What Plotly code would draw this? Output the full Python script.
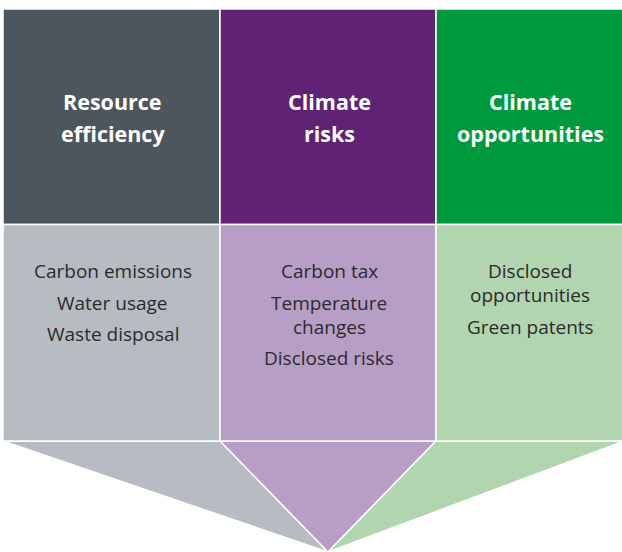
import plotly.graph_objects as go

# ---- data ----
categories = [["Resource", "efficiency"], ["Climate", "risks"], ["Climate", "opportunities"]]
items = [
    [["Carbon emissions"], ["Water usage"], ["Waste disposal"]],
    [["Carbon tax"], ["Temperature", "changes"], ["Disclosed risks"]],
    [["Disclosed", "opportunities"], ["Green patents"]],
]
top_colors = ["#4e565d", "#5f2275", "#009a3e"]
mid_colors = ["#b6bcc2", "#b79ec7", "#b1d5af"]

# ---- layout geometry ----
W, H = 622, 552
col_edges = [3, 220, 436, 622]
y_top, y_mid, y_bot = 9, 224.5, 441
apex = (328, 552)

fig = go.Figure()
shapes = []
annotations = []

# funnel polygons
funnel_polys = [
    [(col_edges[0], y_bot), (col_edges[1], y_bot), apex],
    [(col_edges[1], y_bot), (col_edges[2], y_bot), apex],
    [(col_edges[2], y_bot), (col_edges[3] + 2, y_bot), apex],
]
for i, poly in enumerate(funnel_polys):
    path = "M " + " L ".join(f"{x},{y}" for x, y in poly) + " Z"
    shapes.append(dict(type="path", path=path, xref="x", yref="y",
                       fillcolor=mid_colors[i], line=dict(color="white", width=1.5), layer="below"))

for i in range(3):
    x0, x1 = col_edges[i], col_edges[i + 1]
    shapes.append(dict(type="rect", x0=x0, x1=x1 + (2 if i == 2 else 0), y0=y_top, y1=y_mid, xref="x", yref="y",
                       fillcolor=top_colors[i], line=dict(color="white", width=1.5), layer="below"))
    shapes.append(dict(type="rect", x0=x0, x1=x1 + (2 if i == 2 else 0), y0=y_mid, y1=y_bot, xref="x", yref="y",
                       fillcolor=mid_colors[i], line=dict(color="white", width=1.5), layer="below"))
    cx = (x0 + x1) / 2 + 1
    # heading
    for j, line in enumerate(categories[i]):
        annotations.append(dict(x=cx, y=101 + 32 * j, xref="x", yref="y", text=f"<b>{line}</b>",
                                showarrow=False, xanchor="center", yanchor="middle",
                                font=dict(family="Open Sans", size=21.5, color="white")))
    # items
    y = 271
    for item in items[i]:
        for line in item:
            annotations.append(dict(x=cx, y=y, xref="x", yref="y", text=line,
                                    showarrow=False, xanchor="center", yanchor="middle",
                                    font=dict(family="Open Sans", size=19, color="#2b2b2b", weight=400)))
            y += 24
        y += 7.5

fig.update_layout(
    width=W, height=H,
    margin=dict(l=0, r=0, t=0, b=0),
    paper_bgcolor="white", plot_bgcolor="white",
    xaxis=dict(range=[0, W], visible=False, fixedrange=True),
    yaxis=dict(range=[H, 0], visible=False, fixedrange=True),
    shapes=shapes, annotations=annotations, showlegend=False,
)

fig.write_html("out.html", config={"displayModeBar": False},
               post_script="document.body.style.margin='0';")
